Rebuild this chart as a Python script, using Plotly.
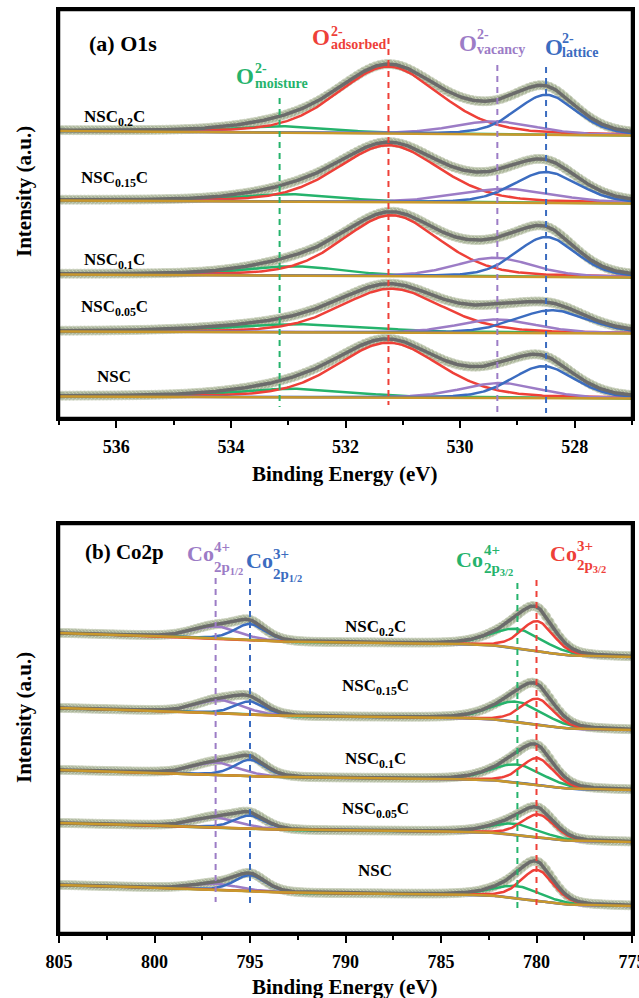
import numpy as np
import plotly.graph_objects as go

# ---------------- data ----------------
samples = ["NSC<sub>0.2</sub>C", "NSC<sub>0.15</sub>C", "NSC<sub>0.1</sub>C",
           "NSC<sub>0.05</sub>C", "NSC"]

# (a) O1s  -- stacked spectra, linear background at 537 eV and 527 eV
o1s_bg_hi = [287.0, 217.5, 143.5, 86.5, 21.5]
o1s_bg_lo = [282.5, 214.5, 140.5, 84.5, 19.5]
moist_c = [533.05, 532.95, 532.9, 532.8, 532.9]
moist_h = [6.5, 7.5, 9.5, 8.0, 8.5]
moist_w = [2.0, 2.0, 2.0, 3.0, 2.4]
ads_c = [531.25, 531.25, 531.2, 531.2, 531.25]
ads_h = [67.0, 57.0, 61.0, 44.0, 55.0]
ads_w = [2.1, 2.1, 2.0, 2.1, 2.1]
vac_c = [529.4, 529.2, 529.4, 529.35, 529.3]
vac_h = [13.0, 14.0, 19.0, 13.5, 15.0]
vac_w = [1.7, 2.0, 1.6, 1.6, 1.6]
lat_c = [528.5, 528.5, 528.5, 528.4, 528.55]
lat_h = [40.0, 31.0, 40.0, 23.0, 32.0]
lat_w = [1.25, 1.35, 1.25, 1.5, 1.3]
o1s_marks = [533.15, 531.25, 529.35, 528.5]

# (b) Co2p -- stacked spectra, background knots (drop below left level)
co_bg_left = [300.0, 225.0, 163.0, 110.0, 48.0]
co_bg_E = [805, 800, 798, 796, 794, 792, 788, 784, 782, 781, 780, 779, 778, 775]
co_bg_drop = [
    [0, 3.0, 4.5, 6.0, 8.0, 9.5, 10.0, 11.0, 12.5, 15.0, 18.0, 21.0, 23.0, 24.0],
    [0, 2.8, 4.1, 5.5, 7.3, 8.7, 9.2, 10.0, 11.5, 13.8, 16.5, 19.3, 21.1, 22.0],
    [0, 2.5, 3.8, 5.0, 6.7, 7.9, 8.3, 9.2, 10.4, 12.5, 15.0, 17.5, 19.2, 20.0],
    [0, 2.4, 3.6, 4.7, 6.3, 7.5, 7.9, 8.7, 9.9, 11.9, 14.2, 16.6, 18.2, 19.0],
    [0, 2.6, 3.9, 5.3, 7.0, 8.3, 8.8, 9.6, 10.9, 13.1, 15.8, 18.4, 20.1, 21.0],
]
co4_12_c = [796.8, 796.6, 796.8, 796.8, 796.8]
co4_12_h = [12.0, 13.0, 12.0, 10.0, 6.0]
co4_12_w = [2.8, 2.8, 2.8, 2.8, 2.8]
co3_12_c = [795.0, 795.0, 795.0, 795.0, 795.0]
co3_12_h = [16.0, 13.0, 16.0, 13.0, 16.0]
co3_12_w = [1.9, 1.9, 1.9, 1.9, 1.9]
co4_32_c = [781.0, 781.0, 781.0, 781.1, 781.0]
co4_32_h = [19.0, 20.0, 18.0, 11.0, 12.0]
co4_32_w = [3.2, 3.2, 3.2, 3.0, 3.0]
co3_32_c = [779.95, 779.95, 779.95, 779.9, 779.95]
co3_32_h = [30.0, 26.0, 27.0, 23.0, 31.0]
co3_32_w = [2.0, 2.0, 2.0, 2.0, 2.0]
co_marks = [796.8, 795.0, 781.0, 780.0]

# ---------------- styles ----------------
GREEN, RED, PURPLE, BLUE = "#25B36C", "#EE4038", "#9C7CC6", "#3B6CC0"
GRAY, GOLD = "#6B6B6B", "#C9982C"
DOT, DOT_EDGE = "#A9B498", "#CDD3C0"
FONT = "Liberation Serif"


def pv(x, c, h, w, eta=0.3):
    t = (x - c) / (w / 2.0)
    return h * ((1 - eta) * np.exp(-np.log(2) * t * t) + eta / (1 + t * t))


fig = go.Figure()


def add_set(E, Emark, bg, comps, xa, ya):
    env = bg.copy()
    for _, p in comps:
        env = env + p
    fig.add_trace(go.Scatter(x=Emark, y=np.interp(Emark, E, env), mode="markers",
                             marker=dict(size=9, color=DOT, line=dict(width=1, color=DOT_EDGE)),
                             xaxis=xa, yaxis=ya, hoverinfo="skip"))
    for col, p in comps:
        fig.add_trace(go.Scatter(x=E, y=bg + p, mode="lines", line=dict(color=col, width=2.5),
                                 xaxis=xa, yaxis=ya, hoverinfo="skip"))
    fig.add_trace(go.Scatter(x=E, y=env, mode="lines", line=dict(color=GRAY, width=3.5),
                             xaxis=xa, yaxis=ya, hoverinfo="skip"))
    fig.add_trace(go.Scatter(x=E, y=bg, mode="lines", line=dict(color=GOLD, width=2.5),
                             xaxis=xa, yaxis=ya, hoverinfo="skip"))


# O1s
Eo = np.linspace(527, 537, 401)
Eo_pts = np.arange(527.0, 537.001, 0.065)
for i in range(5):
    bg = np.interp(Eo, [527, 537], [o1s_bg_lo[i], o1s_bg_hi[i]])
    comps = [(GREEN, pv(Eo, moist_c[i], moist_h[i], moist_w[i])),
             (RED, pv(Eo, ads_c[i], ads_h[i], ads_w[i])),
             (PURPLE, pv(Eo, vac_c[i], vac_h[i], vac_w[i])),
             (BLUE, pv(Eo, lat_c[i], lat_h[i], lat_w[i]))]
    add_set(Eo, Eo_pts, bg, comps, "x", "y")

# Co2p
Ec = np.linspace(775, 805, 601)
Ec_pts = np.arange(775.0, 805.001, 0.18)
for i in range(5):
    knots_y = [co_bg_left[i] - d for d in co_bg_drop[i]]
    raw = np.interp(Ec, co_bg_E[::-1], knots_y[::-1])
    k = 21
    pad = np.pad(raw, k // 2, mode="edge")
    bg = np.convolve(pad, np.ones(k) / k, mode="valid")
    comps = [(PURPLE, pv(Ec, co4_12_c[i], co4_12_h[i], co4_12_w[i])),
             (BLUE, pv(Ec, co3_12_c[i], co3_12_h[i], co3_12_w[i])),
             (GREEN, pv(Ec, co4_32_c[i], co4_32_h[i], co4_32_w[i])),
             (RED, pv(Ec, co3_32_c[i], co3_32_h[i], co3_32_w[i]))]
    add_set(Ec, Ec_pts, bg, comps, "x2", "y2")

# ---------------- layout ----------------
Lm, Rm, Tm, Bm = 59, 7, 10, 65
PW, PH = 639 - Lm - Rm, 998 - Tm - Bm


def px(x):
    return (x - Lm) / PW


def py(y):
    return (998 - Bm - y) / PH


axis_common = dict(showline=True, linewidth=2.5, linecolor="black", mirror=True,
                   showgrid=False, zeroline=False, automargin=False)
xfont = dict(family=FONT, size=18, color="black", weight="bold")

fig.update_layout(
    width=639, height=998, margin=dict(l=Lm, r=Rm, t=Tm, b=Bm, autoexpand=False),
    plot_bgcolor="white", paper_bgcolor="white", showlegend=False,
    xaxis=dict(domain=[0, 1], anchor="y", range=[537, 527], tick0=528, dtick=2,
               ticks="outside", ticklen=7, tickwidth=2, tickcolor="black",
               minor=dict(dtick=1, tick0=527, ticks="outside", ticklen=4, tickwidth=2, tickcolor="black"),
               tickfont=xfont, ticklabelstandoff=4, ticklabeloverflow="allow", **axis_common),
    yaxis=dict(domain=[py(418), 1], anchor="x", range=[0, 408], showticklabels=False,
               ticks="", **axis_common),
    xaxis2=dict(domain=[0, 1], anchor="y2", range=[805, 775], tick0=775, dtick=5,
                ticks="outside", ticklen=7, tickwidth=2, tickcolor="black",
                minor=dict(dtick=2.5, tick0=775, ticks="outside", ticklen=4, tickwidth=2, tickcolor="black"),
                tickfont=xfont, ticklabelstandoff=4, ticklabeloverflow="allow", **axis_common),
    yaxis2=dict(domain=[0, py(524)], anchor="x2", range=[0, 409], showticklabels=False,
                ticks="", **axis_common),
)

# explicit frames around both panels
for y0, y1 in [(py(418), 1.0), (0.0, py(524))]:
    fig.add_shape(type="rect", xref="paper", yref="paper", x0=0, x1=1, y0=y0, y1=y1,
                  line=dict(color="black", width=2.5), layer="above")

# dashed reference lines
dash_a = [(o1s_marks[0], 98, 407, GREEN), (o1s_marks[1], 38, 405, RED),
          (o1s_marks[2], 65, 412, PURPLE), (o1s_marks[3], 67, 413, BLUE)]
for e, y0, y1, c in dash_a:
    fig.add_shape(type="line", xref="x", yref="y", x0=e, x1=e, y0=418 - y0, y1=418 - y1,
                  line=dict(color=c, width=2, dash="6px,5px"))
dash_b = [(co_marks[0], 578, 902, PURPLE), (co_marks[1], 578, 903, BLUE),
          (co_marks[2], 583, 908, GREEN), (co_marks[3], 580, 908, RED)]
for e, y0, y1, c in dash_b:
    fig.add_shape(type="line", xref="x2", yref="y2", x0=e, x1=e, y0=933 - y0, y1=933 - y1,
                  line=dict(color=c, width=2, dash="6px,5px"))


def txt(s, x, y, size, color="black", xanchor="center", yanchor="middle", angle=0):
    fig.add_annotation(text=s, x=px(x), y=py(y), xref="paper", yref="paper", showarrow=False,
                       xanchor=xanchor, yanchor=yanchor, textangle=angle,
                       font=dict(family=FONT, size=size, color=color, weight="bold"))


# axis titles
txt("Binding Energy (eV)", 345, 474, 21)
txt("Binding Energy (eV)", 345, 987, 21)
txt("Intensity (a.u.)", 24, 192, 21, angle=-90)
txt("Intensity (a.u.)", 24, 718, 21, angle=-90)

# panel titles
txt("(a) O1s", 87, 43, 22, xanchor="left")
txt("(b) Co2p", 83, 552, 21, xanchor="left")

# sample labels
for s, y in zip(samples, [118, 179, 261, 308, 376]):
    txt(s, 114, y, 17)
for s, y in zip(samples, [628, 687, 760, 810, 870]):
    txt(s, 375, y, 17)


def peak_label(base, sup, sub, cx, cy, sx, sy, suby, color, bsize=23, ssize=14):
    txt(base, cx, cy, bsize, color)
    txt(sup, sx, sy, ssize, color, xanchor="left")
    txt(sub, sx, suby, ssize, color, xanchor="left")


peak_label("O", "2-", "moisture", 244.5, 76, 253, 69, 84, GREEN)
peak_label("O", "2-", "adsorbed", 320.5, 38, 329, 31, 44, RED)
peak_label("O", "2-", "vacancy", 468.5, 43, 475, 35, 50, PURPLE)
peak_label("O", "2-", "lattice", 553.5, 47, 560, 39, 53, BLUE)

peak_label("Co", "4+", "2p<sub>1/2</sub>", 200, 553, 212, 547, 568, PURPLE, 22, 15)
peak_label("Co", "3+", "2p<sub>1/2</sub>", 259, 560, 271, 554, 575, BLUE, 22, 15)
peak_label("Co", "4+", "2p<sub>3/2</sub>", 469.5, 559, 482, 550, 569, GREEN, 22, 15)
peak_label("Co", "3+", "2p<sub>3/2</sub>", 563.5, 553, 575, 546, 566, RED, 22, 15)

fig.write_html(
    "out.html",
    config={"displayModeBar": False},
    post_script=("document.documentElement.style.overflow='hidden';"
                 "document.body.style.margin='0';document.body.style.padding='0';"
                 "document.body.style.overflow='hidden';"),
)
